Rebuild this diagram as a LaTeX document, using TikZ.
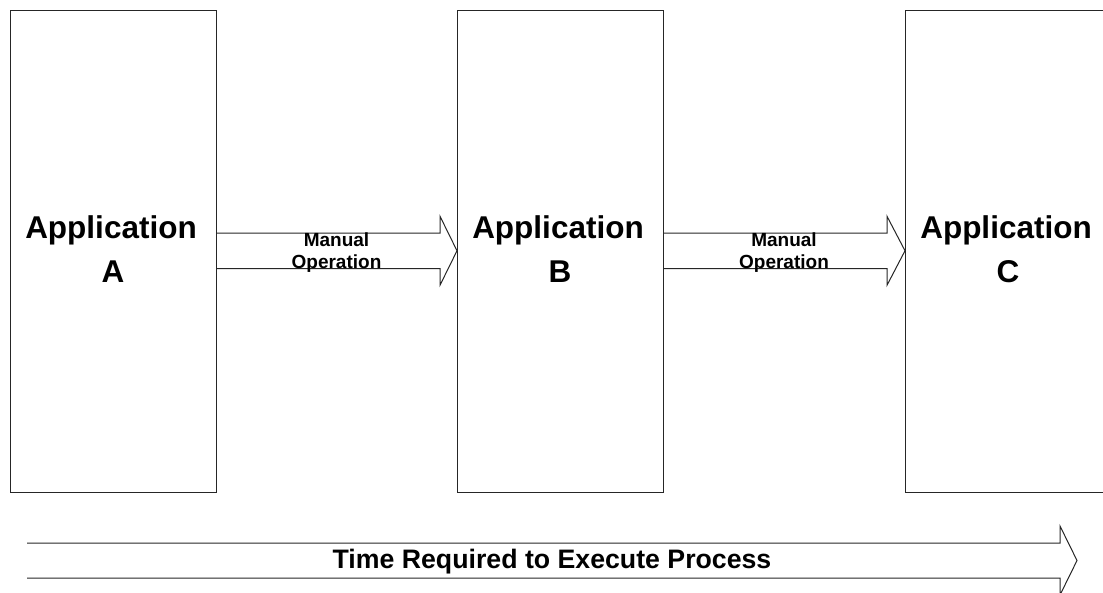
\documentclass[tikz,border=0pt]{standalone}
\usepackage{fontspec}
\setmainfont{Liberation Sans}
\usetikzlibrary{calc}
\begin{document}
\begin{tikzpicture}[x=1pt,y=-1pt,
  line width=1pt,
  appbox/.style={draw=black!85, line width=1pt, minimum width=206pt, minimum height=482pt, anchor=north west, inner sep=0pt},
  blockarrow/.style={draw=black!85, line width=1pt, line join=miter},
  apptext/.style={font=\bfseries\fontsize{31.5}{40}\selectfont, anchor=base, inner sep=0pt},
  optext/.style={font=\bfseries\fontsize{19}{22}\selectfont, anchor=base, inner sep=0pt},
  timetext/.style={font=\bfseries\fontsize{26.7}{30}\selectfont, anchor=base, inner sep=0pt}]
\useasboundingbox (0,0) rectangle (1103,592);
\begin{scope}
\clip (0,0) rectangle (1103,592);

% application boxes
\node[appbox] (A) at (10,10) {};
\node[appbox] (B) at (457,10) {};
\node[appbox] (C) at (905,10) {};

% application labels
\node[apptext] (At1) at (111,238) {Application};
\node[apptext] (At2) at (113,282) {A};
\node[apptext] (Bt1) at (558,238) {Application};
\node[apptext] (Bt2) at (560,282) {B};
\node[apptext] (Ct1) at (1006,238) {Application};
\node[apptext] (Ct2) at (1008,282) {C};

% block arrow from A to B
\coordinate (a1t) at (A.east |- 0,233);
\coordinate (a1b) at (A.east |- 0,268.5);
\coordinate (a1tip) at (B.west |- 0,250.75);
\draw[blockarrow] (a1t) -- ($(a1tip |- a1t)+(-17,0)$) -- ($(a1tip)+(-17,-34.5)$)
  -- (a1tip) -- ($(a1tip)+(-17,34.5)$) -- ($(a1tip |- a1b)+(-17,0)$) -- (a1b);
\node[optext] (m1a) at (336.5,246.5) {Manual};
\node[optext] (m1b) at (336.5,268) {Operation};

% block arrow from B to C
\coordinate (a2t) at (B.east |- 0,233);
\coordinate (a2b) at (B.east |- 0,268.5);
\coordinate (a2tip) at (C.west |- 0,250.75);
\draw[blockarrow] (a2t) -- ($(a2tip |- a2t)+(-18,0)$) -- ($(a2tip)+(-18,-34.5)$)
  -- (a2tip) -- ($(a2tip)+(-18,34.5)$) -- ($(a2tip |- a2b)+(-18,0)$) -- (a2b);
\node[optext] (m2a) at (784,246.5) {Manual};
\node[optext] (m2b) at (784,268) {Operation};

% time arrow along the bottom
\coordinate (tt) at (27,543);
\coordinate (tb) at (27,578);
\coordinate (ttip) at (1077,560.5);
\draw[blockarrow] (tt) -- ($(ttip |- tt)+(-17,0)$) -- ($(ttip)+(-17,-34.5)$)
  -- (ttip) -- ($(ttip)+(-17,34.5)$) -- ($(ttip |- tb)+(-17,0)$) -- (tb);
\node[timetext] (time) at (552,568) {Time Required to Execute Process};
\end{scope}
\end{tikzpicture}
\end{document}
